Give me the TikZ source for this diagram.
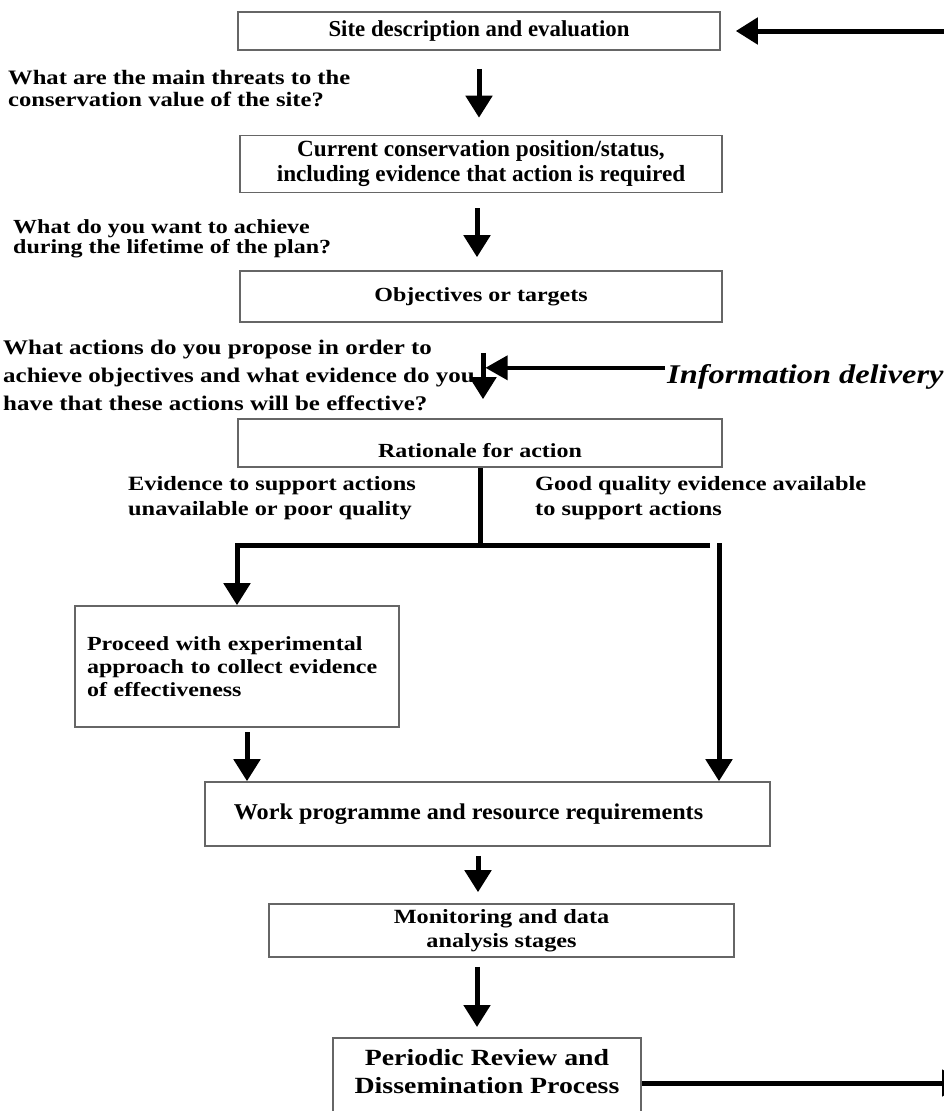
\documentclass[tikz,border=0pt]{standalone}
\usepackage{fontspec}
\setmainfont{Liberation Serif}[FakeStretch=1.2]
\newfontfamily\tallserif{Liberation Serif}
\newfontfamily\midserif{Liberation Serif}[FakeStretch=1.07]
\usetikzlibrary{arrows.meta,calc}
\newcommand\setfs[2]{\fontsize{#1pt}{#2pt}\selectfont\bfseries}
\begin{document}
\begin{tikzpicture}[x=1pt,y=-1pt,
  box/.style={draw=black!60, line width=1.6pt, fill=white, inner sep=0pt, align=center},
  qtext/.style={inner sep=0pt, anchor=north west, align=left},
  arr/.style={line width=5pt, -{Triangle[width=26pt,length=22pt]}},
  bar/.style={line width=5pt},
  infoarr/.style={line width=3.5pt, -{Triangle[width=24pt,length=22pt]}}]
\useasboundingbox (0,0) rectangle (944,1111);
\clip (0,0) rectangle (944,1111);

% main chain of boxes
\node[box, minimum width=482pt, minimum height=38pt, font=\tallserif\setfs{22.8}{24}] (site) at (479,31) {Site description and evaluation};
\node[box, minimum width=482pt, minimum height=57pt, font=\tallserif\setfs{23.2}{25}] (cur) at (481,164) {Current conservation position/status,\\including evidence that action is required};
\node[box, minimum width=482pt, minimum height=51pt, font=\setfs{20}{22}] (obj) at (481,296.5) {Objectives or targets};
\node[box, minimum width=484pt, minimum height=48pt, text height=32pt, text depth=4pt, font=\setfs{20}{22}] (rat) at (480,443) {Rationale for action};
\node[box, minimum width=324pt, minimum height=121pt, text width=300pt, align=left, font=\setfs{20}{23}] (exp) at (237,666.5) {Proceed with experimental\\approach to collect evidence\\of effectiveness};
\node[box, minimum width=565pt, minimum height=64pt, font=\midserif\setfs{22.6}{24}] (work) at (487.5,814) {Work programme and resource requirements\hspace*{38pt}};
\node[box, minimum width=465pt, minimum height=53pt, font=\setfs{20.2}{24}] (mon) at (501.5,930.5) {Monitoring and data\\analysis stages};
\node[box, minimum width=308pt, anchor=north, inner ysep=12pt, text depth=30pt, font=\setfs{23.2}{28}] (per) at (487,1037) {Periodic Review and\\Dissemination Process};

% guiding questions
\node[qtext, font=\setfs{20.5}{22}] (q1) at (8,70) {What are the main threats to the\\conservation value of the site?};
\node[qtext, font=\setfs{20}{20.5}] (q2) at (13,219) {What do you want to achieve\\during the lifetime of the plan?};
\node[qtext, font=\setfs{20.8}{28}] (q3) at (3,340) {What actions do you propose in order to\\achieve objectives and what evidence do you\\have that these actions will be effective?};

% branch labels
\node[qtext, font=\setfs{20.3}{25}] (lno) at (128,476) {Evidence to support actions\\unavailable or poor quality};
\node[qtext, font=\setfs{20.3}{25}] (lyes) at (535,476) {Good quality evidence available\\to support actions};

% information input
\node[inner sep=2pt, anchor=base west, font=\setfs{27}{30}\itshape] (info) at (665,383) {Information delivery};

% vertical flow arrows
\draw[arr, shorten <=18pt, shorten >=17pt] (site.south) -- (site.south |- cur.north);
\draw[arr, shorten <=15pt, shorten >=13pt] ($(cur.south)+(-4,0)$) -- ($(cur.south |- obj.north)+(-4,0)$);
\draw[arr, shorten <=30pt, shorten >=19pt] ($(obj.south)+(2,0)$) -- ($(obj.south |- rat.north)+(2,0)$);
\coordinate (join) at ($(obj.south)+(2,45)$);
\draw[infoarr, shorten >=2.5pt] (info.west |- join) -- (join);

% branching after the rationale
\coordinate (fr) at (710,545);
\draw[bar] (rat.south) -- (rat.south |- fr);
\draw[arr, line join=miter] (fr) -- (fr -| exp.north) -- (exp.north);
\coordinate (rtop) at (719,543);
\draw[arr] (rtop) -- (rtop |- work.north);
\coordinate (el) at (247,732);
\draw[arr] (el) -- (el |- work.north);

% lower chain
\draw[arr, shorten <=9pt, shorten >=11pt] ($(work.south)+(-9.5,0)$) -- ($(work.south |- mon.north)+(-9.5,0)$);
\draw[arr, shorten <=9pt, shorten >=10pt] ($(mon.south)+(-24.5,0)$) -- ($(mon.south |- per.north)+(-24.5,0)$);

% feedback connections at the page edge
\coordinate (fbin) at (965,31);
\draw[arr, shorten >=15pt] (fbin) -- (site.east);
\coordinate (fbout) at (964,1083);
\draw[arr] (per.east |- fbout) -- (fbout);
\end{tikzpicture}
\end{document}
